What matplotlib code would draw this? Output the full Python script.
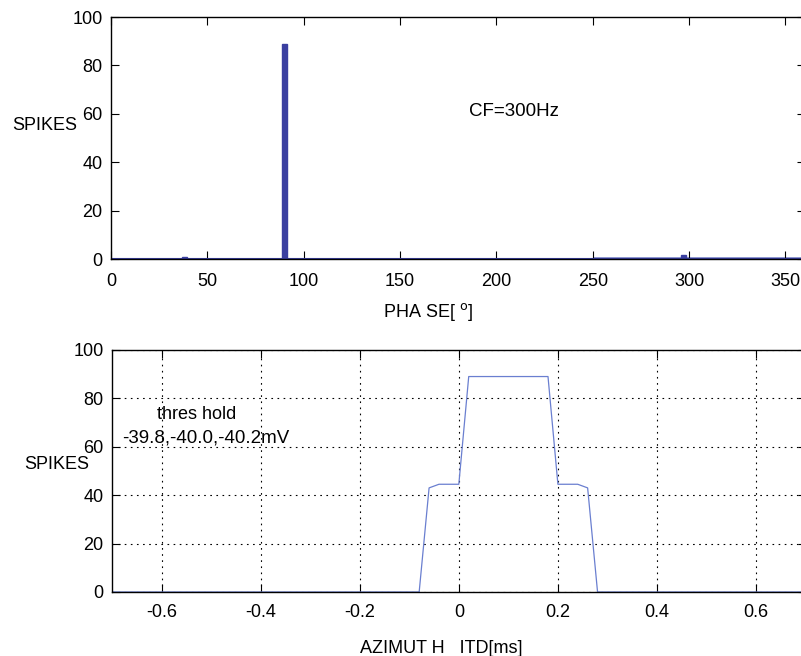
import matplotlib.pyplot as plt
import numpy as np

plt.rcParams['font.family'] = ['Liberation Sans', 'DejaVu Sans']
plt.rcParams['font.size'] = 13

# top panel: phase histogram
peak_phase = [38, 90, 297]
peak_spikes = [1.0, 89.0, 1.5]
base_edges = [0, 25, 70, 90, 150, 250, 300, 360]
base_level = [0.0, 0.3, 0.2, 0.4, 0.5, 0.7, 0.8]

# bottom panel: spikes vs ITD
itd = [-0.7, -0.08, -0.06, -0.04, -0.02, 0.0, 0.02, 0.04, 0.06, 0.08, 0.10,
       0.12, 0.14, 0.16, 0.18, 0.20, 0.22, 0.24, 0.26, 0.28, 0.7]
spikes = [0, 0, 43, 44.5, 44.5, 44.5, 89, 89, 89, 89, 89,
          89, 89, 89, 89, 44.5, 44.5, 44.5, 43, 0, 0]

fig = plt.figure(figsize=(8.01, 6.56), dpi=100)

ax1 = fig.add_axes([0.1386, 0.605, 0.866, 0.369])
ax1.stairs(base_level, base_edges, fill=True, color='#6470c0', alpha=0.7)
ax1.axhline(0, color='#3a3fa0', lw=1.5)
ax1.bar(peak_phase, peak_spikes, width=2.6, color='#3a3fa0', edgecolor='#3a3fa0')
ax1.set_xlim(0, 360)
ax1.set_ylim(0, 100)
ax1.set_xticks([0, 50, 100, 150, 200, 250, 300, 350])
ax1.set_yticks([0, 20, 40, 60, 80, 100])
ax1.tick_params(axis='both', direction='in', length=6, top=True, right=True, pad=6)
ax1.tick_params(axis='x', pad=10)
ax1.text(186, 61, 'CF=300Hz', fontsize=13.5, va='center')
ax1.text(-0.143, 0.55, 'SPIKES', transform=ax1.transAxes, ha='left', va='center')
ax1.set_xlabel('PHA SE[ $^{\\mathrm{o}}$]')
ax1.xaxis.set_label_coords(0.457, -0.175)

ax2 = fig.add_axes([0.1398, 0.0976, 0.866, 0.369])
ax2.plot(itd, spikes, color='#6a7fd0', lw=0.9)
ax2.set_xlim(-0.7, 0.7)
ax2.set_ylim(0, 100)
ax2.set_xticks([-0.6, -0.4, -0.2, 0, 0.2, 0.4, 0.6])
ax2.set_xticklabels(['-0.6', '-0.4', '-0.2', '0', '0.2', '0.4', '0.6'])
ax2.set_yticks([0, 20, 40, 60, 80, 100])
ax2.grid(True, color='black', linestyle=(0, (1.5, 4)), lw=0.8)
ax2.tick_params(axis='both', direction='in', length=6, top=True, right=True, pad=6)
ax2.tick_params(axis='x', pad=9)
ax2.text(-0.61, 73.5, 'thres hold', fontsize=13, va='center')
ax2.text(-0.68, 63.5, '-39.8,-40.0,-40.2mV', fontsize=13.5, va='center')
ax2.text(-0.127, 0.525, 'SPIKES', transform=ax2.transAxes, ha='left', va='center')
ax2.set_xlabel('AZIMUT H   ITD[ms]')
ax2.xaxis.set_label_coords(0.475, -0.2)

for ax in (ax1, ax2):
    for s in ax.spines.values():
        s.set_linewidth(1.0)

fig.savefig('out.png', dpi=100)
